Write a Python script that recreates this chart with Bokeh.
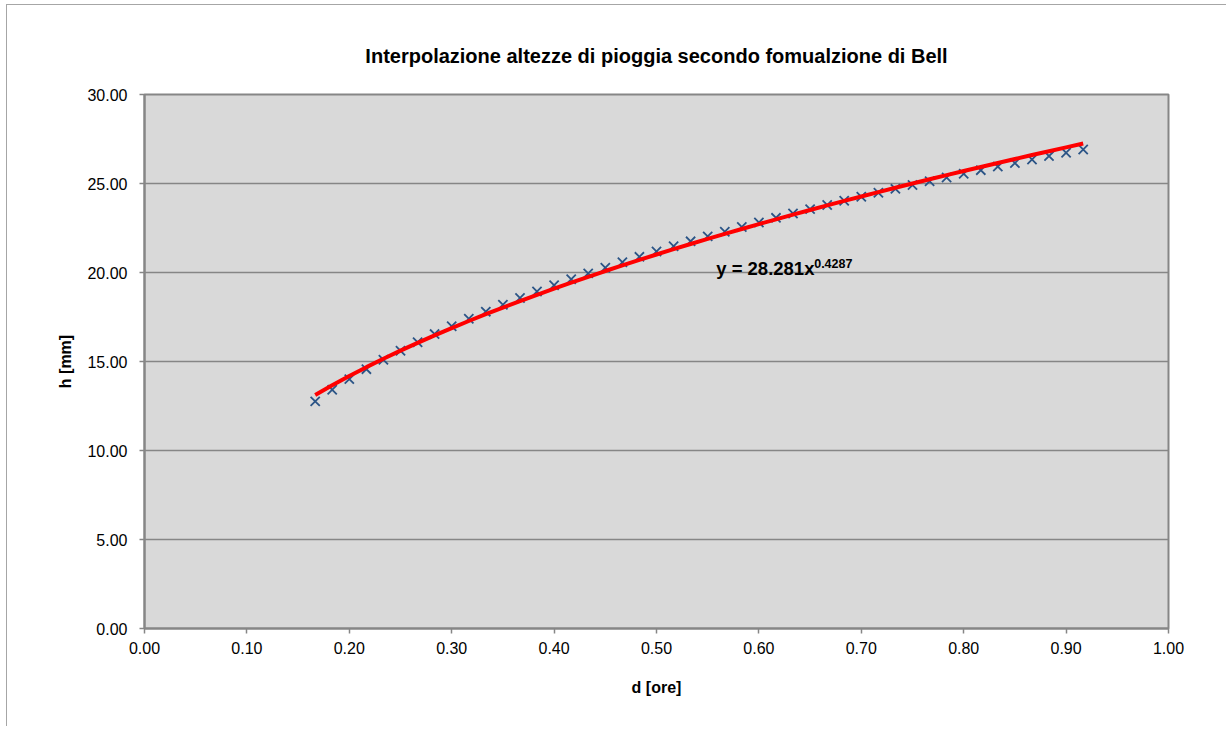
from bokeh.plotting import figure
from bokeh.models import FixedTicker, PrintfTickFormatter, Range1d, ColumnDataSource
from bokeh.core.properties import value
from bokeh.embed import file_html
from bokeh.resources import INLINE
import numpy as np

# ---- data ----
d_ore = [0.1667, 0.1833, 0.2000, 0.2167, 0.2333, 0.2500, 0.2667, 0.2833, 0.3000, 0.3167,
         0.3333, 0.3500, 0.3667, 0.3833, 0.4000, 0.4167, 0.4333, 0.4500, 0.4667, 0.4833,
         0.5000, 0.5167, 0.5333, 0.5500, 0.5667, 0.5833, 0.6000, 0.6167, 0.6333, 0.6500,
         0.6667, 0.6833, 0.7000, 0.7167, 0.7333, 0.7500, 0.7667, 0.7833, 0.8000, 0.8167,
         0.8333, 0.8500, 0.8667, 0.8833, 0.9000, 0.9167]
h_mm = [12.76, 13.41, 14.01, 14.57, 15.10, 15.60, 16.08, 16.54, 16.98, 17.40,
        17.80, 18.19, 18.57, 18.93, 19.28, 19.62, 19.95, 20.27, 20.58, 20.88,
        21.18, 21.47, 21.75, 22.03, 22.29, 22.56, 22.81, 23.07, 23.31, 23.56,
        23.79, 24.03, 24.26, 24.48, 24.70, 24.92, 25.13, 25.34, 25.55, 25.75,
        25.95, 26.15, 26.35, 26.54, 26.73, 26.91]
trend_a = 28.281
trend_b = 0.4287
x_ticks = [0.0, 0.1, 0.2, 0.3, 0.4, 0.5, 0.6, 0.7, 0.8, 0.9, 1.0]
y_ticks = [0, 5, 10, 15, 20, 25, 30]

title_text = "Interpolazione altezze di pioggia secondo fomualzione di Bell"
x_label = "d [ore]"
y_label = "h [mm]"
eq_main = "y = 28.281x"
eq_sup = "0.4287"

FONT = "Liberation Sans"
GRAY = "#868686"

p = figure(width=1220, height=722, output_backend="svg", toolbar_location=None,
           x_range=Range1d(0, 1), y_range=Range1d(0, 30),
           min_border_left=137, min_border_right=59, min_border_top=89, min_border_bottom=99)
p.styles = {"margin-left": "6px", "margin-top": "4px",
            "border-top": "1px solid #A6A6A6", "border-left": "1px solid #A6A6A6"}

p.title.text = title_text
p.title.align = "center"
p.title.text_font = FONT
p.title.text_font_size = "20px"
p.title.text_font_style = "bold"
p.title.text_color = "black"
p.title.offset = 0
p.title.standoff = 55

p.background_fill_color = "#D9D9D9"
p.border_fill_color = "white"
p.outline_line_color = GRAY
p.outline_line_width = 2

p.xgrid.visible = False
p.ygrid.grid_line_color = GRAY
p.ygrid.grid_line_width = 1.5
p.ygrid.ticker = FixedTicker(ticks=y_ticks)

for ax in (p.xaxis[0], p.yaxis[0]):
    ax.axis_line_color = GRAY
    ax.axis_line_width = 2
    ax.major_tick_line_color = GRAY
    ax.major_tick_line_width = 1.5
    ax.major_tick_in = 0
    ax.major_tick_out = 5
    ax.minor_tick_line_color = None
    ax.major_label_text_font = FONT
    ax.major_label_text_font_size = "16px"
    ax.major_label_text_color = "black"
    ax.axis_label_text_font = FONT
    ax.axis_label_text_font_size = "16px"
    ax.axis_label_text_font_style = "bold"
    ax.axis_label_text_color = "black"
    ax.formatter = PrintfTickFormatter(format="%.2f")

p.xaxis.ticker = FixedTicker(ticks=x_ticks)
p.yaxis.ticker = FixedTicker(ticks=y_ticks)
p.xaxis.axis_label = x_label
p.yaxis.axis_label = y_label
p.xaxis.major_label_standoff = 8
p.xaxis.axis_label_standoff = 22
p.yaxis.major_label_standoff = 12
p.yaxis.axis_label_standoff = 10

# data points
src = ColumnDataSource(dict(d=d_ore, h=h_mm))
p.scatter("d", "h", source=src, marker="x", size=13, line_color="#2B5486", line_width=1.8)

# power trendline
xs = np.array(d_ore)
p.line(xs, trend_a * xs ** trend_b, line_color="#FF0000", line_width=4)

# equation label
p.text(x=[0.5583], y=[20.24], text=[eq_main], text_font=value(FONT), text_font_size="18.5px",
       text_font_style="bold", text_color="black", text_baseline="alphabetic", text_align="left")
p.text(x=[0.5583], y=[20.24], text=[eq_sup], text_font=value(FONT), text_font_size="12.5px",
       text_font_style="bold", text_color="black", text_baseline="alphabetic", text_align="left",
       x_offset=[98], y_offset=[-5])

open("out.html", "w").write(file_html(p, INLINE))
